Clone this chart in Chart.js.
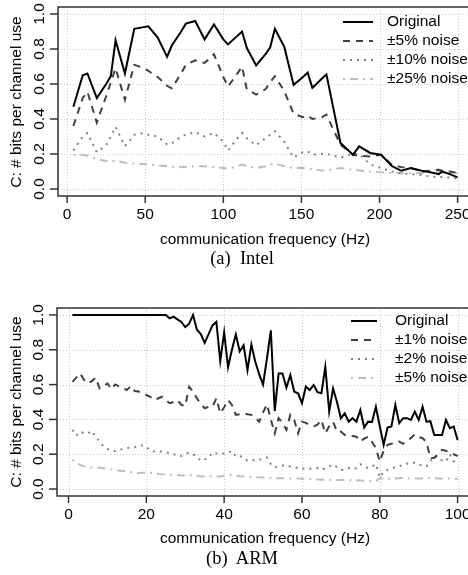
<!DOCTYPE html>
<html>
<head>
<meta charset="utf-8">
<script src="https://cdn.jsdelivr.net/npm/chart.js@4.4.1/dist/chart.umd.min.js"></script>
<style>
  html, body { margin: 0; padding: 0; background: #fff; overflow: hidden; }
  body { width: 468px; height: 575px; position: relative; }
  canvas { position: absolute; left: 0; }
  .txt { position: absolute; white-space: pre; color: #000; line-height: 1; }
  .xtitle { font: 15.5px "Liberation Sans", Arial, sans-serif; transform: translate(-50%, -50%); }
  .ytitle { font: 15.5px "Liberation Sans", Arial, sans-serif; transform: translate(-50%, -50%) rotate(-90deg); }
  .caption { font: 18.5px "Liberation Serif", "Times New Roman", serif; transform: translate(-50%, -50%); }
</style>
</head>
<body>
<canvas id="intelChart" width="480" height="280" style="top:0;width:480px;height:280px"></canvas>
<canvas id="armChart" width="480" height="295" style="top:280px;width:480px;height:295px"></canvas>

<div class="txt ytitle" style="left:16px;top:102px">C: # bits per channel use</div>
<div class="txt xtitle" style="left:265px;top:239px">communication frequency (Hz)</div>
<div class="txt caption" style="left:242px;top:258px">(a)  Intel</div>

<div class="txt ytitle" style="left:16px;top:402px">C: # bits per channel use</div>
<div class="txt xtitle" style="left:265px;top:538px">communication frequency (Hz)</div>
<div class="txt caption" style="left:242px;top:558px">(b)  ARM</div>

<script>
// ---- (a) Intel ----
const INTEL_FREQ = [4,10,13,19,25,28,31,37,43,49,52,58,64,67,73,76,82,88,94,100,103,109,112,115,121,127,130,133,139,145,151,154,157,163,166,175,183,187,194,201,208,214,220,227,233,238,240,245,250];
const INTEL_ORIGINAL = [0.47,0.65,0.66,0.52,0.60,0.645,0.85,0.66,0.915,0.925,0.93,0.865,0.755,0.82,0.90,0.945,0.96,0.855,0.94,0.855,0.826,0.875,0.90,0.807,0.706,0.77,0.81,0.915,0.813,0.595,0.64,0.665,0.578,0.63,0.655,0.263,0.196,0.244,0.206,0.196,0.13,0.104,0.12,0.104,0.095,0.085,0.10,0.085,0.066];
const INTEL_NOISE5 = [0.36,0.52,0.555,0.38,0.53,0.61,0.69,0.51,0.71,0.69,0.675,0.64,0.59,0.575,0.66,0.71,0.735,0.72,0.77,0.64,0.585,0.66,0.70,0.57,0.54,0.57,0.61,0.645,0.56,0.43,0.41,0.42,0.40,0.41,0.425,0.253,0.196,0.19,0.186,0.196,0.137,0.125,0.12,0.10,0.105,0.11,0.105,0.10,0.09];
const INTEL_NOISE10 = [0.22,0.30,0.32,0.21,0.25,0.30,0.355,0.245,0.31,0.32,0.31,0.30,0.255,0.26,0.30,0.31,0.325,0.30,0.32,0.27,0.22,0.29,0.32,0.29,0.25,0.29,0.31,0.33,0.27,0.18,0.21,0.215,0.196,0.2,0.2,0.18,0.2,0.2,0.14,0.12,0.1,0.09,0.085,0.08,0.07,0.07,0.068,0.065,0.06];
const INTEL_NOISE25 = [0.195,0.195,0.19,0.17,0.16,0.16,0.162,0.15,0.145,0.143,0.14,0.135,0.13,0.127,0.125,0.127,0.13,0.13,0.125,0.12,0.116,0.13,0.139,0.13,0.12,0.13,0.14,0.146,0.13,0.12,0.12,0.115,0.112,0.106,0.106,0.12,0.11,0.106,0.10,0.095,0.091,0.09,0.09,0.092,0.093,0.095,0.094,0.092,0.09];
const INTEL_LABELS = ['Original', '\u00b15% noise', '\u00b110% noise', '\u00b125% noise'];
const INTEL_X_TICKS = [0, 50, 100, 150, 200, 250];

// ---- (b) ARM ----
const ARM_FREQ = [
  1,2,3,4,5,6,7,8,9,10, 11,12,13,14,15,16,17,18,19,20,
  21,22,23,24,25,26,27,28,29,30, 31,32,33,34,35,36,37,38,39,40,
  41,42,43,44,45,46,47,48,49,50, 51,52,53,54,55,56,57,58,59,60,
  61,62,63,64,65,66,67,68,69,70, 71,72,73,74,75,76,77,78,79,80,
  81,82,83,84,85,86,87,88,89,90, 91,92,93,94,95,96,97,98,99,100];
const ARM_ORIGINAL = [
  1,1,1,1,1,1,1,1,1,1,
  1,1,1,1,1,1,1,1,1,1,
  1,1,1,1,1,0.98,0.99,0.975,0.96,0.93,
  0.95,1.0,0.915,0.89,0.84,0.89,0.94,0.96,0.735,0.9,
  0.70,0.80,0.888,0.79,0.826,0.683,0.83,0.731,0.66,0.60,
  0.75,0.912,0.448,0.664,0.664,0.582,0.655,0.56,0.55,0.493,
  0.588,0.569,0.597,0.556,0.55,0.702,0.445,0.578,0.50,0.407,
  0.435,0.387,0.407,0.387,0.454,0.353,0.387,0.385,0.473,0.36,
  0.254,0.353,0.359,0.483,0.378,0.407,0.407,0.397,0.445,0.397,
  0.473,0.387,0.39,0.311,0.311,0.311,0.397,0.349,0.359,0.282];
const ARM_NOISE1 = [
  0.616,0.64,0.664,0.626,0.607,0.62,0.64,0.578,0.59,0.607,
  0.574,0.601,0.59,0.58,0.569,0.592,0.563,0.56,0.55,0.54,
  0.53,0.511,0.52,0.53,0.51,0.493,0.50,0.511,0.483,0.477,
  0.588,0.56,0.521,0.49,0.464,0.473,0.473,0.521,0.435,0.47,
  0.511,0.483,0.426,0.43,0.435,0.43,0.426,0.41,0.387,0.44,
  0.487,0.40,0.32,0.407,0.38,0.34,0.426,0.397,0.32,0.387,
  0.38,0.368,0.36,0.37,0.397,0.32,0.36,0.387,0.33,0.33,
  0.311,0.31,0.305,0.301,0.273,0.29,0.301,0.27,0.235,0.158,
  0.22,0.254,0.26,0.265,0.273,0.26,0.28,0.292,0.315,0.30,
  0.292,0.27,0.178,0.18,0.20,0.225,0.22,0.21,0.2,0.19];
const ARM_NOISE2 = [
  0.34,0.307,0.33,0.32,0.32,0.334,0.30,0.273,0.244,0.23,
  0.22,0.219,0.225,0.23,0.235,0.238,0.24,0.25,0.25,0.244,
  0.22,0.215,0.215,0.215,0.21,0.206,0.20,0.195,0.19,0.2,
  0.21,0.2,0.185,0.162,0.17,0.181,0.21,0.205,0.2,0.205,
  0.21,0.219,0.187,0.19,0.18,0.162,0.165,0.165,0.168,0.175,
  0.181,0.143,0.124,0.13,0.135,0.135,0.13,0.125,0.12,0.116,
  0.12,0.116,0.116,0.12,0.11,0.12,0.13,0.14,0.125,0.11,
  0.11,0.12,0.115,0.12,0.143,0.13,0.12,0.13,0.143,0.066,
  0.1,0.11,0.12,0.125,0.13,0.14,0.145,0.155,0.15,0.14,
  0.135,0.13,0.16,0.19,0.17,0.165,0.158,0.2,0.16,0.15];
const ARM_NOISE5 = [
  0.168,0.15,0.139,0.13,0.124,0.124,0.124,0.122,0.12,0.116,
  0.113,0.11,0.107,0.104,0.1,0.097,0.094,0.091,0.093,0.095,
  0.093,0.09,0.087,0.085,0.084,0.082,0.081,0.08,0.078,0.078,
  0.079,0.08,0.076,0.072,0.072,0.074,0.073,0.072,0.072,0.076,
  0.08,0.082,0.078,0.074,0.072,0.07,0.069,0.068,0.067,0.066,
  0.065,0.064,0.063,0.062,0.062,0.061,0.061,0.06,0.06,0.059,
  0.058,0.057,0.056,0.055,0.054,0.053,0.053,0.053,0.052,0.052,
  0.053,0.051,0.05,0.05,0.049,0.048,0.047,0.046,0.044,0.063,
  0.058,0.06,0.06,0.061,0.062,0.063,0.06,0.06,0.06,0.06,
  0.06,0.061,0.063,0.062,0.06,0.06,0.06,0.06,0.06,0.059];
const ARM_LABELS = ['Original', '\u00b11% noise', '\u00b12% noise', '\u00b15% noise'];
const ARM_X_TICKS = [0, 20, 40, 60, 80, 100];

const Y_TICKS = [0, 0.2, 0.4, 0.6, 0.8, 1.0];

// line styles shared by both panels (solid, dashed, dotted, dot-dash)
const STYLES = [
  { color: '#000000', dash: [] },
  { color: '#404040', dash: [7, 6] },
  { color: '#808080', dash: [2, 5] },
  { color: '#bdbdbd', dash: [2, 5, 8, 5] },
];

const FONT = '15.5px "Liberation Sans", Arial, sans-serif';

const pts = (xs, ys) => xs.map((x, i) => ({ x, y: ys[i] }));

// draws the R-like frame: dotted grid, box, ticks, tick labels, legend
function framePlugin(xTicks, legend) {
  return {
    id: 'frame',
    beforeDatasetsDraw(chart) {
      const { ctx, chartArea: a, scales: { x, y } } = chart;
      ctx.save();
      ctx.strokeStyle = '#c8c8c8';
      ctx.lineWidth = 1;
      ctx.setLineDash([1, 2]);
      xTicks.forEach(v => {
        const px = Math.round(x.getPixelForValue(v)) + 0.5;
        ctx.beginPath(); ctx.moveTo(px, a.top); ctx.lineTo(px, a.bottom); ctx.stroke();
      });
      Y_TICKS.forEach(v => {
        const py = Math.round(y.getPixelForValue(v)) + 0.5;
        ctx.beginPath(); ctx.moveTo(a.left, py); ctx.lineTo(a.right, py); ctx.stroke();
      });
      ctx.restore();
    },
    afterDatasetsDraw(chart) {
      const { ctx, chartArea: a, scales: { x, y } } = chart;
      ctx.save();
      ctx.setLineDash([]);
      ctx.strokeStyle = '#333';
      ctx.lineWidth = 1.5;
      ctx.strokeRect(a.left, a.top, a.right - a.left, a.bottom - a.top);

      ctx.fillStyle = '#000';
      ctx.font = FONT;
      ctx.textAlign = 'center';
      ctx.textBaseline = 'middle';
      xTicks.forEach(v => {
        const px = x.getPixelForValue(v);
        ctx.beginPath(); ctx.moveTo(px, a.bottom); ctx.lineTo(px, a.bottom + 7); ctx.stroke();
        ctx.fillText(String(v), px, a.bottom + 19);
      });
      Y_TICKS.forEach(v => {
        const py = y.getPixelForValue(v);
        ctx.beginPath(); ctx.moveTo(a.left, py); ctx.lineTo(a.left - 8, py); ctx.stroke();
        ctx.save();
        ctx.translate(a.left - 18, py);
        ctx.rotate(-Math.PI / 2);
        ctx.fillText(v.toFixed(1), 0, 0);
        ctx.restore();
      });

      // legend, from the datasets
      ctx.textAlign = 'left';
      chart.data.datasets.forEach((ds, i) => {
        const ly = legend.y0 + i * legend.gap;
        ctx.strokeStyle = ds.borderColor;
        ctx.lineWidth = 2;
        ctx.setLineDash(ds.borderDash);
        ctx.beginPath(); ctx.moveTo(legend.x1, ly); ctx.lineTo(legend.x2, ly); ctx.stroke();
        ctx.fillText(ds.label, legend.tx, ly);
      });
      ctx.restore();
    }
  };
}

function buildChart(id, xs, series, labels, xRange, padding, xTicks, legend) {
  // first dataset (the original) keeps the lowest order, so it is drawn on top
  const datasets = series.map((ys, i) => ({
    label: labels[i],
    data: pts(xs, ys),
    borderColor: STYLES[i].color,
    borderDash: STYLES[i].dash,
    borderWidth: 2,
    pointRadius: 0,
    tension: 0,
    fill: false,
    order: i,
  }));

  return new Chart(document.getElementById(id), {
    type: 'line',
    data: { datasets },
    options: {
      responsive: false,
      animation: false,
      events: [],
      layout: { padding },
      plugins: { legend: { display: false }, tooltip: { enabled: false } },
      scales: {
        x: { type: 'linear', min: xRange[0], max: xRange[1], display: false },
        y: { type: 'linear', min: -0.04, max: 1.04, display: false },
      }
    },
    plugins: [framePlugin(xTicks, legend)]
  });
}

// INIT
buildChart('intelChart', INTEL_FREQ,
  [INTEL_ORIGINAL, INTEL_NOISE5, INTEL_NOISE10, INTEL_NOISE25], INTEL_LABELS,
  [-5.84, 259.84], { left: 58, top: 7, right: 7, bottom: 84 },
  INTEL_X_TICKS, { x1: 343, x2: 373, tx: 387, y0: 22, gap: 19 });

buildChart('armChart', ARM_FREQ,
  [ARM_ORIGINAL, ARM_NOISE1, ARM_NOISE2, ARM_NOISE5], ARM_LABELS,
  [-2.96, 103.96], { left: 57, top: 28, right: 7, bottom: 79 },
  ARM_X_TICKS, { x1: 351, x2: 377, tx: 395, y0: 41, gap: 19 });
</script>
</body>
</html>
